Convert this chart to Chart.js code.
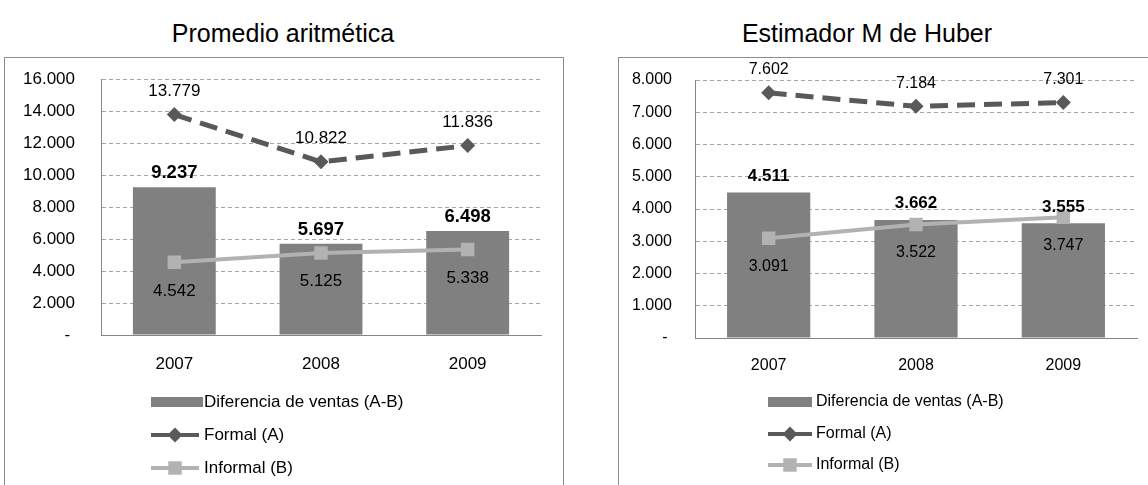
<!DOCTYPE html>
<html>
<head>
<meta charset="utf-8">
<script src="https://cdn.jsdelivr.net/npm/chart.js@4.4.1/dist/chart.umd.min.js"></script>
<style>
  html, body { margin: 0; padding: 0; background: #fff; width: 1148px; height: 485px; overflow: hidden;
               font-family: "Liberation Sans", Arial, sans-serif; }
  .title { position: absolute; top: 19px; height: 28px; line-height: 28px; font-size: 25px; color: #000;
           text-align: center; white-space: nowrap; }
  .box { position: absolute; top: 57px; width: 560px; height: 440px; border: 1px solid #8c8c8c;
         box-sizing: border-box; background: #fff; }
  .box canvas { position: absolute; left: 0; top: 0; }
</style>
</head>
<body>
<div class="title" style="left:4px;width:558px">Promedio aritmética</div>
<div class="title" style="left:618px;width:498px">Estimador M de Huber</div>
<div class="box" style="left:4px"><canvas id="promedio" width="558" height="427"></canvas></div>
<div class="box" style="left:618px"><canvas id="huber" width="558" height="427"></canvas></div>

<script>
// Categories
const years = ['2007', '2008', '2009'];

// Promedio aritmética
const promDiferencia = [9237, 5697, 6498];
const promFormal     = [13779, 10822, 11836];
const promInformal   = [4542, 5125, 5338];
const promAxisMax  = 16000;
const promAxisStep = 2000;

// Estimador M de Huber
const huberDiferencia = [4511, 3662, 3555];
const huberFormal     = [7602, 7184, 7301];
const huberInformal   = [3091, 3522, 3747];
const huberAxisMax  = 8000;
const huberAxisStep = 1000;

// Series names
const seriesNames = ['Diferencia de ventas (A-B)', 'Formal (A)', 'Informal (B)'];

const FONT = '"Liberation Sans", Arial, sans-serif';
const BAR_COLOR = '#808080';
const FORMAL_COLOR = '#595959';
const INFORMAL_COLOR = '#b2b2b2';

// Thousands with a dot, zero as a dash
function fmt(v) {
  if (v === 0) return '-';
  return String(v).replace(/\B(?=(\d{3})+(?!\d))/g, '.');
}

// Value labels: bars above their top, formal above the point, informal below
const valueLabels = {
  id: 'valueLabels',
  afterDatasetsDraw(chart, args, opts) {
    const ctx = chart.ctx;
    chart.data.datasets.forEach((ds, di) => {
      const meta = chart.getDatasetMeta(di);
      const o = opts.series[di];
      meta.data.forEach((el, i) => {
        ctx.save();
        ctx.font = o.font;
        ctx.fillStyle = '#000';
        ctx.textAlign = 'center';
        ctx.textBaseline = 'middle';
        ctx.fillText(fmt(ds.data[i]), el.x, el.y + o.dy);
        ctx.restore();
      });
    });
  }
};

// Stacked legend under the x axis
const stackedLegend = {
  id: 'stackedLegend',
  afterDraw(chart, args, opts) {
    const ctx = chart.ctx;
    const base = chart.chartArea.bottom;
    const x0 = opts.x;
    chart.data.datasets.forEach((ds, i) => {
      const y = base + opts.rows[i];
      ctx.save();
      if (ds.type === 'bar') {
        ctx.fillStyle = ds.backgroundColor;
        ctx.fillRect(x0, y - 5, opts.barWidth, 10);
      } else {
        const w = opts.lineWidth;
        ctx.strokeStyle = ds.borderColor;
        ctx.lineWidth = 4;
        ctx.beginPath();
        if (ds.borderDash && ds.borderDash.length) {
          ctx.moveTo(x0, y); ctx.lineTo(x0 + w * 0.38, y);
          ctx.moveTo(x0 + w * 0.62, y); ctx.lineTo(x0 + w, y);
        } else {
          ctx.moveTo(x0, y); ctx.lineTo(x0 + w, y);
        }
        ctx.stroke();
        ctx.fillStyle = ds.borderColor;
        const cx = x0 + w / 2;
        if (ds.pointStyle === 'rectRot') {
          const r = ds.pointRadius;
          ctx.beginPath();
          ctx.moveTo(cx - r, y); ctx.lineTo(cx, y - r); ctx.lineTo(cx + r, y); ctx.lineTo(cx, y + r);
          ctx.closePath(); ctx.fill();
        } else {
          const s = ds.pointRadius * Math.SQRT1_2;
          ctx.fillRect(cx - s, y - s, 2 * s, 2 * s);
        }
      }
      ctx.fillStyle = '#000';
      ctx.font = opts.font;
      ctx.textAlign = 'left';
      ctx.textBaseline = 'middle';
      ctx.fillText(ds.label, x0 + opts.textOffset, y);
      ctx.restore();
    });
  }
};

function makeChart(id, cfg) {
  const txt = cfg.fontSize + 'px ' + FONT;
  return new Chart(document.getElementById(id), {
    data: {
      labels: years,
      datasets: [
        { type: 'bar', label: seriesNames[0], data: cfg.dif, backgroundColor: BAR_COLOR,
          barPercentage: 0.565, categoryPercentage: 1, order: 3 },
        { type: 'line', label: seriesNames[1], data: cfg.formal, borderColor: FORMAL_COLOR,
          backgroundColor: FORMAL_COLOR, borderWidth: 5, borderDash: [18, 9], tension: 0,
          pointStyle: 'rectRot', pointRadius: 7.5, pointBorderWidth: 0, order: 1 },
        { type: 'line', label: seriesNames[2], data: cfg.informal, borderColor: INFORMAL_COLOR,
          backgroundColor: INFORMAL_COLOR, borderWidth: 4, tension: 0,
          pointStyle: 'rect', pointRadius: 9.5, pointBorderWidth: 0, order: 2 }
      ]
    },
    options: {
      responsive: false,
      animation: false,
      events: [],
      layout: { autoPadding: false, padding: { left: 0, top: cfg.top, right: cfg.right, bottom: cfg.bottom } },
      plugins: {
        legend: { display: false },
        tooltip: { enabled: false },
        valueLabels: {
          series: [
            { dy: cfg.barDy, font: 'bold ' + cfg.boldSize + 'px ' + FONT },
            { dy: cfg.formalDy, font: txt },
            { dy: cfg.informalDy, font: txt }
          ]
        },
        stackedLegend: {
          x: cfg.legendX, barWidth: cfg.legendBar, lineWidth: cfg.legendLine, textOffset: cfg.textOffset,
          rows: cfg.legendRows, font: txt
        }
      },
      scales: {
        x: {
          grid: { display: false, drawTicks: false },
          border: { display: true, color: '#868686', width: 1 },
          ticks: { color: '#000', font: { family: FONT, size: cfg.fontSize }, padding: cfg.xPad },
          afterFit(s) { s.height = 40; }
        },
        y: {
          min: 0, max: cfg.max,
          ticks: { stepSize: cfg.step, color: '#000', font: { family: FONT, size: cfg.fontSize },
                   padding: cfg.tickPad, callback: v => (v === 0 ? '- ' : fmt(v)) },
          grid: { drawTicks: false, lineWidth: 1,
                  color: c => (c.tick && c.tick.value === 0 ? 'rgba(0,0,0,0)' : '#a6a6a6') },
          border: { display: true, color: '#868686', width: 1, dash: [4, 3] },
          afterFit(s) {
            // fixed axis width; the plot box is set by the layout padding alone
            s.width = cfg.axisWidth;
            s.paddingTop = 0;
            s.paddingBottom = 0;
          }
        }
      }
    },
    plugins: [valueLabels, stackedLegend]
  });
}

makeChart('promedio', {
  dif: promDiferencia, formal: promFormal, informal: promInformal,
  max: promAxisMax, step: promAxisStep,
  fontSize: 17, boldSize: 18.5, barDy: -14, formalDy: -23.5, informalDy: 28.5,
  axisWidth: 96, tickPad: 26, xPad: 19, top: 21, right: 22, bottom: 110,
  legendX: 146, legendBar: 52, legendLine: 48, textOffset: 53, legendRows: [67, 100, 133]
});

makeChart('huber', {
  dif: huberDiferencia, formal: huberFormal, informal: huberInformal,
  max: huberAxisMax, step: huberAxisStep,
  fontSize: 16, boldSize: 17, barDy: -16.5, formalDy: -23, informalDy: 28,
  axisWidth: 76, tickPad: 23, xPad: 18, top: 22, right: 40, bottom: 107,
  legendX: 149, legendBar: 44, legendLine: 44, textOffset: 48, legendRows: [64, 96, 127]
});
</script>
</body>
</html>
